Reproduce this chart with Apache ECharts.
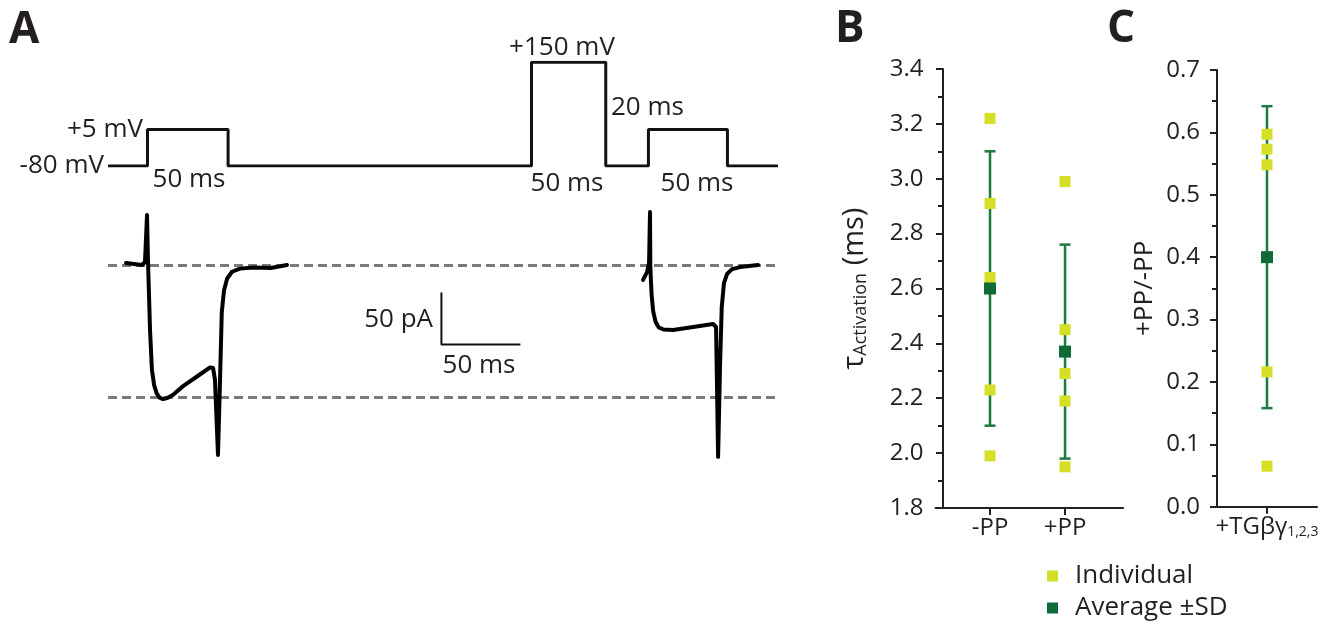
<!DOCTYPE html>
<html>
<head>
<meta charset="utf-8">
<script src="https://cdn.jsdelivr.net/npm/echarts@6/dist/echarts.min.js"></script>
<style>
html, body { margin: 0; padding: 0; background: #fff; }
#chart { width: 1331px; height: 628px; }
</style>
</head>
<body>
<div id="chart"></div>
<script>
// panel A - voltage protocol (ms / drawn step level)
var protocolTime = [0, 25, 25, 76, 76, 268, 268, 315, 315, 342, 342, 392, 392, 424];
var protocolLevel = [0, 0, 1, 1, 0, 0, 2.84, 2.84, 0, 0, 1, 1, 0, 0];

// panel A - current traces (ms / pA)
var trace1Time = [11.4, 21.5, 23.4, 24.7, 25.3, 26.6, 27.8, 29.2, 30.8, 32.6, 34.8, 37.5, 41.0, 47.5, 57.0, 64.6, 66.5, 67.7, 69.6, 70.9, 72.0, 73.4, 75.4, 78.5, 83.5, 92.0, 103.0, 113.3];
var trace1Current = [2.4, 0.5, 3.4, 48.6, 5.3, -62, -100.5, -115, -123, -127, -128.4, -127.5, -124.5, -116, -106, -98, -98.6, -110, -182.2, -110, -45, -24, -12.5, -6, -3, -2, -2.4, 0.5];
var trace2Time = [338.6, 341.1, 342.4, 343.0, 343.2, 344.0, 345.0, 346.5, 348.5, 351.5, 357.6, 370.3, 382.9, 384.8, 386.1, 387.3, 388.4, 389.8, 391.8, 395.0, 400.0, 411.4];
var trace2Current = [-13.9, -6.3, 2.4, 51.4, -1.4, -28, -44, -54, -59.5, -61.5, -62, -59.1, -56.3, -59.1, -184, -97.6, -40, -17, -8, -3.5, -1.5, 0.5];
var refCurrents = [0, -127];
var scaleBarTime = [211, 211, 261];
var scaleBarCurrent = [-26, -76, -76];

// panel B - activation time constant (ms)
var bCategories = ['-PP', '+PP'];
var bIndividual = [
    [3.22, 2.91, 2.64, 2.23, 1.99],
    [2.99, 2.45, 2.29, 2.19, 1.95]
];
var bMean = [2.60, 2.37];
var bSd = [0.50, 0.39];
var bTicks = [1.8, 2.0, 2.2, 2.4, 2.6, 2.8, 3.0, 3.2, 3.4];

// panel C - ratio +PP/-PP
var cCategories = ['+TGβγ'];
var cIndividual = [[0.597, 0.573, 0.548, 0.216, 0.065]];
var cMean = [0.40];
var cSd = [0.242];
var cTicks = [0.0, 0.1, 0.2, 0.3, 0.4, 0.5, 0.6, 0.7];

var catPosB = [0.627, 1.627];
var catPosC = [1];

var ink = '#231f20';
var yellow = '#d5df25';
var dark = '#0e6b38';
var barColor = '#1f7a40';
var font = 'Open Sans';

function zip(a, b) {
    return a.map(function (v, i) { return [v, b[i]]; });
}

function scatterData(pos, groups) {
    var out = [];
    groups.forEach(function (g, i) {
        g.forEach(function (v) { out.push([pos[i], v]); });
    });
    return out;
}

function renderErrorBar(params, api) {
    var x = api.value(0);
    var top = api.coord([x, api.value(2)]);
    var bot = api.coord([x, api.value(1)]);
    var half = 5.5;
    var style = { stroke: barColor, lineWidth: 2.5 };
    return {
        type: 'group',
        children: [
            { type: 'line', shape: { x1: top[0], y1: top[1], x2: bot[0], y2: bot[1] }, style: style },
            { type: 'line', shape: { x1: top[0] - half, y1: top[1], x2: top[0] + half, y2: top[1] }, style: style },
            { type: 'line', shape: { x1: bot[0] - half, y1: bot[1], x2: bot[0] + half, y2: bot[1] }, style: style }
        ]
    };
}

function errorData(pos, mean, sd) {
    return mean.map(function (m, i) { return [pos[i], m - sd[i], m + sd[i]]; });
}

function nearestName(pos, names, v) {
    var best = 0;
    pos.forEach(function (p, i) { if (Math.abs(p - v) < Math.abs(pos[best] - v)) best = i; });
    return names[best];
}

function hiddenAxis(idx, min, max) {
    return { gridIndex: idx, type: 'value', min: min, max: max, show: false };
}

var axisLineStyle = { color: ink, width: 2 };

var annotations = [
    { text: '-80 mV', x: 104, y: 166, align: 'right' },
    { text: '+5 mV', x: 143, y: 130, align: 'right' },
    { text: '50 ms', x: 189, y: 180, align: 'center' },
    { text: '+150 mV', x: 562, y: 48, align: 'center' },
    { text: '20 ms', x: 611, y: 108, align: 'left' },
    { text: '50 ms', x: 567, y: 184, align: 'center' },
    { text: '50 ms', x: 697, y: 184, align: 'center' },
    { text: '50 pA', x: 433, y: 320, align: 'right' },
    { text: '50 ms', x: 479, y: 366, align: 'center' }
];
var panelLetters = [
    { text: 'A', x: 9, y: 30 },
    { text: 'B', x: 835, y: 29 },
    { text: 'C', x: 1107, y: 29 }
];

var graphics = annotations.map(function (a) {
    return {
        type: 'text', x: a.x, y: a.y,
        style: { text: a.text, fontSize: 26, fontFamily: font, fill: ink, align: a.align, verticalAlign: 'middle' }
    };
}).concat(panelLetters.map(function (a) {
    return {
        type: 'text', x: a.x, y: a.y,
        style: { text: a.text, fontSize: 44, fontWeight: 'bold', fontFamily: font, fill: ink, align: 'left', verticalAlign: 'middle' }
    };
}));

var chart = echarts.init(document.getElementById('chart'));

var option = {
    animation: false,
    backgroundColor: '#fff',
    textStyle: { fontFamily: font, color: ink },
    graphic: graphics,
    grid: [
        { left: 108, top: 62.3, width: 670, height: 103.7 },
        { left: 108, top: 208.3, width: 670, height: 254.8 },
        { left: 935.5, top: 69, width: 187.5, height: 439 },
        { left: 1212, top: 70, width: 105, height: 436.7 }
    ],
    xAxis: [
        hiddenAxis(0, 0, 424),
        hiddenAxis(1, 0, 424),
        {
            gridIndex: 2, type: 'value', min: -0.1, max: 2.4,
            axisLine: { show: true, onZero: false, lineStyle: axisLineStyle },
            axisTick: { show: true, customValues: catPosB, length: 7, lineStyle: axisLineStyle },
            axisLabel: {
                customValues: catPosB, fontSize: 24, color: ink, margin: 8,
                formatter: function (v) { return nearestName(catPosB, bCategories, v); }
            },
            splitLine: { show: false }
        },
        {
            gridIndex: 3, type: 'value', min: -0.1, max: 2.0,
            axisLine: { show: true, onZero: false, lineStyle: axisLineStyle },
            axisTick: { show: true, customValues: catPosC, length: 7, lineStyle: axisLineStyle },
            axisLabel: {
                customValues: catPosC, fontSize: 24, color: ink, margin: 8,
                formatter: function (v) { return nearestName(catPosC, cCategories, v) + '{s|1,2,3}'; },
                rich: { s: { fontSize: 14, fontFamily: font, color: ink, verticalAlign: 'bottom' } }
            },
            splitLine: { show: false }
        }
    ],
    yAxis: [
        hiddenAxis(0, 0, 2.84),
        hiddenAxis(1, -190, 55),
        {
            gridIndex: 2, type: 'value', min: bTicks[0], max: bTicks[bTicks.length - 1], interval: 0.2,
            axisLine: { show: true, onZero: true, lineStyle: axisLineStyle },
            axisTick: { show: true, length: 7, lineStyle: axisLineStyle },
            minorTick: { show: true, splitNumber: 2, length: 5, lineStyle: axisLineStyle },
            axisLabel: { fontSize: 24, color: ink, margin: 12, formatter: function (v) { return v.toFixed(1); } },
            splitLine: { show: false },
            name: '{t|τ}{s|Activation}{t| (ms)}',
            nameLocation: 'middle', nameRotate: 90, nameGap: 66,
            nameTextStyle: {
                rich: {
                    t: { fontSize: 29, fontFamily: font, color: ink },
                    s: { fontSize: 18, fontFamily: font, color: ink, verticalAlign: 'bottom' }
                }
            }
        },
        {
            gridIndex: 3, type: 'value', min: cTicks[0], max: cTicks[cTicks.length - 1], interval: 0.1,
            axisLine: { show: true, onZero: true, lineStyle: axisLineStyle },
            axisTick: { show: true, length: 7, lineStyle: axisLineStyle },
            minorTick: { show: true, splitNumber: 2, length: 5, lineStyle: axisLineStyle },
            axisLabel: { fontSize: 24, color: ink, margin: 12, formatter: function (v) { return v.toFixed(1); } },
            splitLine: { show: false },
            name: '+PP/-PP',
            nameLocation: 'middle', nameRotate: 90, nameGap: 54,
            nameTextStyle: { fontSize: 26, fontFamily: font, color: ink }
        }
    ],
    legend: {
        data: ['Individual', 'Average ±SD'],
        orient: 'vertical', left: 1047, top: 563, padding: 0,
        icon: 'rect', itemWidth: 11, itemHeight: 11, itemGap: 6,
        textStyle: { fontSize: 26, lineHeight: 26, fontFamily: font, color: ink, padding: [0, 0, 0, 12] }
    },
    series: [
        {
            type: 'line', xAxisIndex: 0, yAxisIndex: 0, data: zip(protocolTime, protocolLevel),
            symbol: 'none', lineStyle: { color: '#111', width: 3 }, silent: true
        },
        {
            type: 'line', xAxisIndex: 1, yAxisIndex: 1, data: [[0, refCurrents[0]], [424, refCurrents[0]]],
            symbol: 'none', lineStyle: { color: '#7a7a7a', width: 3, type: [9, 5] }, silent: true
        },
        {
            type: 'line', xAxisIndex: 1, yAxisIndex: 1, data: [[0, refCurrents[1]], [424, refCurrents[1]]],
            symbol: 'none', lineStyle: { color: '#7a7a7a', width: 3, type: [9, 5] }, silent: true
        },
        {
            type: 'line', xAxisIndex: 1, yAxisIndex: 1, data: zip(trace1Time, trace1Current),
            symbol: 'none', lineStyle: { color: '#000', width: 4, join: 'round', cap: 'round' }, silent: true
        },
        {
            type: 'line', xAxisIndex: 1, yAxisIndex: 1, data: zip(trace2Time, trace2Current),
            symbol: 'none', lineStyle: { color: '#000', width: 4, join: 'round', cap: 'round' }, silent: true
        },
        {
            type: 'line', xAxisIndex: 1, yAxisIndex: 1, data: zip(scaleBarTime, scaleBarCurrent),
            symbol: 'none', lineStyle: { color: '#111', width: 2 }, silent: true
        },
        {
            type: 'custom', xAxisIndex: 2, yAxisIndex: 2, renderItem: renderErrorBar,
            data: errorData(catPosB, bMean, bSd), encode: { x: 0, y: [1, 2] }, z: 2
        },
        {
            name: 'Individual', type: 'scatter', xAxisIndex: 2, yAxisIndex: 2,
            data: scatterData(catPosB, bIndividual), symbol: 'rect', symbolSize: 11,
            itemStyle: { color: yellow, opacity: 1 }, z: 3
        },
        {
            name: 'Average ±SD', type: 'scatter', xAxisIndex: 2, yAxisIndex: 2,
            data: zip(catPosB, bMean), symbol: 'rect', symbolSize: 12,
            itemStyle: { color: dark, opacity: 1 }, z: 4
        },
        {
            type: 'custom', xAxisIndex: 3, yAxisIndex: 3, renderItem: renderErrorBar,
            data: errorData(catPosC, cMean, cSd), encode: { x: 0, y: [1, 2] }, z: 2
        },
        {
            name: 'Individual', type: 'scatter', xAxisIndex: 3, yAxisIndex: 3,
            data: scatterData(catPosC, cIndividual), symbol: 'rect', symbolSize: 11,
            itemStyle: { color: yellow, opacity: 1 }, z: 3
        },
        {
            name: 'Average ±SD', type: 'scatter', xAxisIndex: 3, yAxisIndex: 3,
            data: zip(catPosC, cMean), symbol: 'rect', symbolSize: 12,
            itemStyle: { color: dark, opacity: 1 }, z: 4
        }
    ]
};

chart.setOption(option);
</script>
</body>
</html>
